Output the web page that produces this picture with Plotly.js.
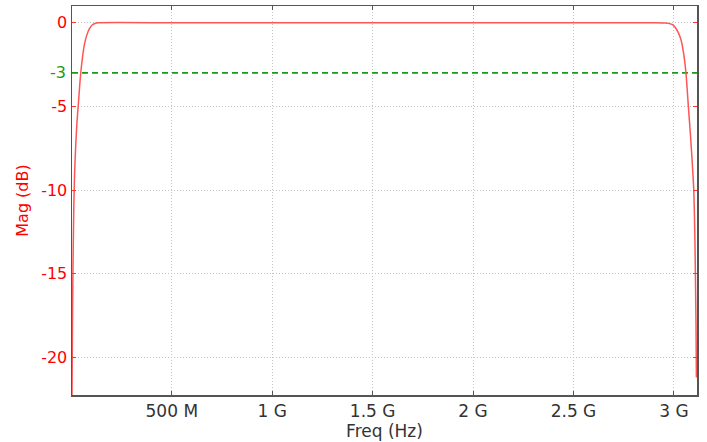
<!DOCTYPE html>
<html>
<head>
<meta charset="utf-8">
<script src="https://cdn.plot.ly/plotly-3.0.1.min.js"></script>
<style>html,body{margin:0;padding:0;background:#fff;}#chart{width:707px;height:442px;}</style>
</head>
<body>
<div id="chart"></div>
<script>
// Frequency (MHz) and magnitude (dB)
const freqMHz = [2, 4, 6, 8, 12, 16, 22, 28, 35, 45, 55, 65, 75, 90, 105, 120, 135,
  500, 1000, 1500, 2000, 2500, 2900, 2960, 2990, 3005, 3020, 3035, 3048, 3060,
  3072, 3083, 3092, 3099, 3104, 3107, 3110, 3112];
const magDb = [-24, -20.5, -17, -14.5, -11, -9, -7.2, -5.9, -4.8, -3.2, -2.1, -1.3, -0.8, -0.35, -0.12, -0.03, 0,
  0, 0, 0, 0, 0, 0, -0.02, -0.1, -0.25, -0.55, -1.0, -1.8, -3,
  -5, -6.8, -8.5, -10, -12.5, -15, -18, -21.2];
const cutoffDb = -3;
const xTickVals = [0.5e9, 1e9, 1.5e9, 2e9, 2.5e9, 3e9];
const xTickText = ['500 M', '1 G', '1.5 G', '2 G', '2.5 G', '3 G'];
const yTickVals = [0, -5, -10, -15, -20];
const yTickText = ['0', '-5', '-10', '-15', '-20'];
const xRange = [3e6, 3.115e9];
const yRange = [-22.25, 1];

const freqHz = freqMHz.map(f => f * 1e6);

const font = 'DejaVu Sans, sans-serif';
const traces = [
  {
    x: xRange, y: [cutoffDb, cutoffDb], mode: 'lines',
    line: {color: '#1a9a1a', width: 1.8, dash: '6px,4px'},
    hoverinfo: 'skip', showlegend: false
  },
  {
    x: freqHz, y: magDb, mode: 'lines',
    line: {color: '#ff5555', width: 1.5, shape: 'spline', smoothing: 0.6},
    showlegend: false
  }
];

const layout = {
  width: 707, height: 442,
  margin: {l: 72, r: 10, t: 6, b: 47},
  paper_bgcolor: '#fff', plot_bgcolor: '#fff',
  font: {family: font, size: 16, color: '#333'},
  xaxis: {
    range: xRange, tickvals: xTickVals, ticktext: xTickText,
    ticks: 'inside', ticklen: 4, tickcolor: '#555', tickwidth: 1,
    showline: true, linecolor: '#555', linewidth: 1.5, mirror: 'ticks',
    showgrid: true, gridcolor: '#c4c4c4', griddash: '1px,2px', gridwidth: 1,
    zeroline: false,
    tickfont: {family: font, size: 17, color: '#333'},
    title: {text: 'Freq (Hz)', font: {family: font, size: 17, color: '#333'}, standoff: 3}
  },
  yaxis: {
    range: yRange, tickvals: yTickVals, ticktext: yTickText,
    ticks: 'inside', ticklen: 4, tickcolor: '#ff3333', tickwidth: 1,
    showline: true, linecolor: '#555', linewidth: 1.5, mirror: 'ticks',
    showgrid: true, gridcolor: '#c4c4c4', griddash: '1px,2px', gridwidth: 1,
    zeroline: false,
    tickfont: {family: font, size: 16, color: 'red'},
    title: {text: 'Mag (dB)', font: {family: font, size: 16, color: 'red'}, standoff: 8}
  },
  annotations: [{
    xref: 'paper', yref: 'y', x: 0, y: cutoffDb, xanchor: 'right', yanchor: 'middle',
    xshift: -4, text: String(cutoffDb), showarrow: false,
    font: {family: font, size: 16, color: '#1a9a1a'}
  }]
};

Plotly.newPlot('chart', traces, layout, {displayModeBar: false, staticPlot: true});
</script>
</body>
</html>
